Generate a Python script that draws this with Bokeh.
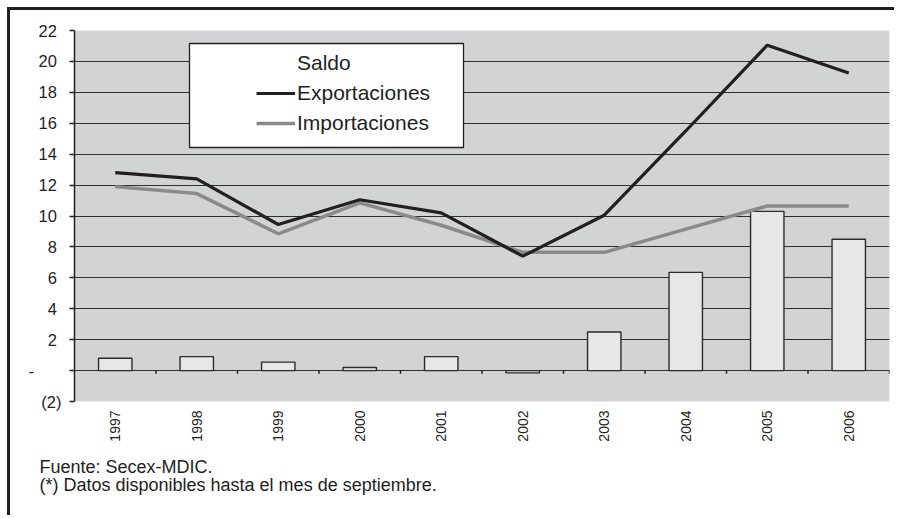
import math
from bokeh.plotting import figure
from bokeh.models import (ColumnDataSource, FactorRange, Range1d, FixedTicker, Legend,
                          LegendItem, BoxAnnotation, Title)
from bokeh.transform import dodge
from bokeh.embed import file_html
from bokeh.resources import INLINE

# ---- data ----
years = ["1997", "1998", "1999", "2000", "2001", "2002", "2003", "2004", "2005", "2006"]
exportaciones = [12.8, 12.4, 9.45, 11.05, 10.2, 7.4, 10.05, 15.5, 21.05, 19.25]
importaciones = [11.9, 11.45, 8.85, 10.85, 9.4, 7.65, 7.65, 9.15, 10.65, 10.65]
saldo = [0.8, 0.9, 0.55, 0.2, 0.9, -0.15, 2.5, 6.35, 10.3, 8.5]
y_ticks = [-2, 0, 2, 4, 6, 8, 10, 12, 14, 16, 18, 20, 22]
y_labels = ["(2)", "-", "2", "4", "6", "8", "10", "12", "14", "16", "18", "20", "22"]
footnote_1 = "Fuente: Secex-MDIC."
footnote_2 = "(*) Datos disponibles hasta el mes de septiembre."

FONT = "Liberation Sans"
INK = "#231f20"

src = ColumnDataSource(dict(year=years, exp=exportaciones, imp=importaciones, saldo=saldo))

p = figure(width=887, height=508, output_backend="svg", toolbar_location=None,
           x_range=FactorRange(*years, range_padding=0), y_range=Range1d(-2, 22),
           min_border_left=64, min_border_right=8, min_border_top=20, min_border_bottom=117)
p.styles = {"margin-left": "7px", "margin-top": "7px",
            "border-top": "3px solid #231f20", "border-left": "3px solid #231f20"}
p.background_fill_color = "#d1d3d4"
p.border_fill_color = "white"
p.outline_line_color = None

# grid
p.xgrid.grid_line_color = None
p.ygrid.grid_line_color = "#2e2e2e"
p.ygrid.grid_line_width = 1.2

# y axis
p.yaxis.ticker = FixedTicker(ticks=y_ticks)
overrides = {}
for t, lab in zip(y_ticks, y_labels):
    if t > 0:
        lab = lab + "\u00a0"
    elif t == 0:
        lab = lab + "\u00a0" * 6
    overrides[t] = lab
p.yaxis.major_label_overrides = overrides
p.yaxis.major_label_text_font = FONT
p.yaxis.major_label_text_font_size = "16.5px"
p.yaxis.major_label_text_color = INK
p.yaxis.major_label_standoff = 8
p.yaxis.major_tick_out = 5
p.yaxis.major_tick_in = 0
p.yaxis.major_tick_line_color = INK
p.yaxis.major_tick_line_width = 1.3
p.yaxis.minor_tick_line_color = None
p.yaxis.axis_line_color = INK
p.yaxis.axis_line_width = 1.5

# x axis
p.xaxis.axis_line_color = None
p.xaxis.major_tick_line_color = None
p.xaxis.major_tick_out = 0
p.xaxis.major_tick_in = 0
p.xaxis.major_label_orientation = math.pi / 2
p.xaxis.major_label_standoff = 9
p.xaxis.major_label_text_font = FONT
p.xaxis.major_label_text_font_size = "14px"
p.xaxis.major_label_text_color = INK

# bars
p.vbar(x="year", top="saldo", bottom=0, width=0.41, source=src,
       fill_color="#e6e7e8", line_color="#2b2b2b", line_width=1.4)

# category boundary ticks on the zero line
p.segment(x0=dodge("year", 0.5, range=p.x_range), y0=0,
          x1=dodge("year", 0.5, range=p.x_range), y1=-0.2,
          source=src, line_color=INK, line_width=1.5)

# lines
r_imp = p.line(x="year", y="imp", source=src, line_color="#8a8a8a", line_width=3.5)
r_exp = p.line(x="year", y="exp", source=src, line_color=INK, line_width=3.2)

# legend box
p.add_layout(BoxAnnotation(left=115, right=389, top=358, bottom=254,
                           left_units="screen", right_units="screen",
                           top_units="screen", bottom_units="screen",
                           fill_color="white", fill_alpha=1.0,
                           line_color=INK, line_width=1.3, line_alpha=1.0))

legend = Legend(items=[LegendItem(label="Saldo", renderers=[]),
                       LegendItem(label="Exportaciones", renderers=[r_exp]),
                       LegendItem(label="Importaciones", renderers=[r_imp])],
                location=(182, 266), padding=0, margin=0, spacing=6,
                glyph_width=39, glyph_height=24, label_height=24, label_standoff=2,
                label_text_font=FONT, label_text_font_size="21px", label_text_color=INK,
                background_fill_alpha=0, border_line_color=None)
p.add_layout(legend, "center")

# footnotes
for txt, so, va in ((footnote_1, 20, "bottom"), (footnote_2, -24, "top")):
    p.add_layout(Title(text=txt, align="left", offset=-35, standoff=so, vertical_align=va,
                       text_font=FONT, text_font_size="18px", text_font_style="normal",
                       text_color=INK), "below")

open("out.html", "w").write(file_html(p, INLINE))
